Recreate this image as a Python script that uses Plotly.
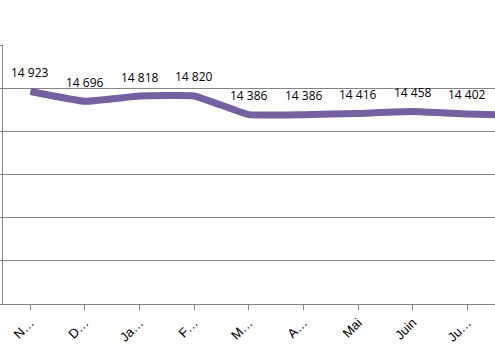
import plotly.graph_objects as go

months = ["N…", "D…", "Ja…", "F…", "M…", "A…", "Mai", "Juin", "Ju…", "A…"]
values = [14923, 14696, 14818, 14820, 14386, 14386, 14416, 14458, 14402, 14370]
labels = ["14 923", "14 696", "14 818", "14 820", "14 386", "14 386", "14 416", "14 458", "14 402", "14 370"]

x_idx = list(range(len(months)))

fig = go.Figure()
fig.add_trace(go.Scatter(
    x=x_idx, y=values, mode="lines",
    line=dict(color="#7560A0", width=7, shape="spline", smoothing=0.3),
    hoverinfo="skip", showlegend=False,
))

for xi, v, lab in zip(x_idx, values, labels):
    fig.add_annotation(x=xi, y=v, text=lab, showarrow=False, yshift=19,
                       yanchor="middle", xanchor="center",
                       font=dict(family="Open Sans, Liberation Sans, Arial", size=12, color="#000000"))

fig.update_layout(
    width=495, height=363,
    margin=dict(l=3, r=0, t=45, b=59, autoexpand=False),
    paper_bgcolor="white", plot_bgcolor="white",
    xaxis=dict(
        range=[-0.5, 8.505], automargin=False,
        tickmode="array", tickvals=x_idx, ticktext=months,
        tickangle=-45, showgrid=False, showline=True, linecolor="#868686", linewidth=1,
        ticks="outside", ticklen=5, tickcolor="#868686", tickson="boundaries",
        tickfont=dict(family="Liberation Sans, Arial", size=13, color="#000000"),
        zeroline=False, fixedrange=True,
    ),
    yaxis=dict(
        range=[10000, 16000], dtick=1000, tick0=10000, automargin=False,
        showgrid=True, gridcolor="#868686", gridwidth=1,
        showline=True, linecolor="#868686", linewidth=1,
        ticks="outside", ticklen=3, tickcolor="#868686",
        showticklabels=False, zeroline=False, fixedrange=True,
    ),
)

fig.write_html("out.html", config={"displayModeBar": False},
               post_script="document.body.style.margin='0';document.body.style.overflow='hidden';")
